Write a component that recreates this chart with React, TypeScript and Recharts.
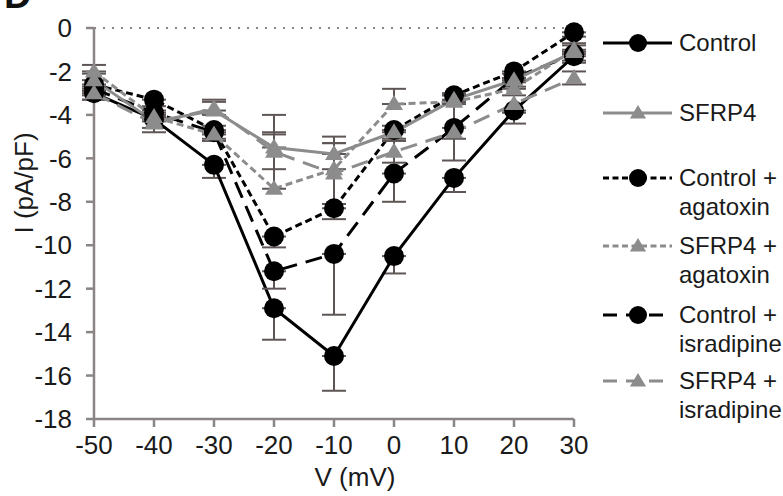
import { LineChart, Line, XAxis, YAxis, ErrorBar, ReferenceLine } from "recharts";

const voltages = [-50, -40, -30, -20, -10, 0, 10, 20, 30];

const control = [-3.0, -4.2, -6.3, -12.9, -15.1, -10.5, -6.9, -3.8, -1.3];
const controlErr = [0.3, 0.4, 0.6, 1.45, 1.6, 0.8, 0.65, 0.6, 0.3];

const sfrp4 = [-2.4, -4.3, -3.8, -5.5, -5.8, -4.8, -3.3, -2.4, -1.1];
const sfrp4Err = [0.3, 0.3, 0.5, 1.5, 0.8, 0.3, 0.3, 0.3, 0.3];

const controlAga = [-2.6, -3.3, -4.7, -9.6, -8.3, -4.7, -3.1, -2.0, -0.2];
const controlAgaErr = [0.3, 0.3, 0.5, 0.5, 0.5, 0.4, 0.3, 0.3, 0.2];

const sfrp4Aga = [-2.0, -4.1, -4.9, -7.4, -6.5, -3.5, -3.4, -2.8, -1.0];
const sfrp4AgaErr = [0.3, 0.3, 0.4, 2.6, 1.2, 0.7, 0.3, 0.3, 0.3];

const controlIsr = [-2.8, -3.9, -4.8, -11.2, -10.4, -6.7, -4.6, -2.3, -1.2];
const controlIsrErr = [0.3, 0.3, 0.3, 0.8, 2.8, 1.3, 0.5, 0.4, 0.3];

const sfrp4Isr = [-3.0, -4.4, -3.7, -5.7, -6.7, -5.7, -4.8, -3.5, -2.3];
const sfrp4IsrErr = [0.3, 0.4, 0.3, 0.8, 1.4, 0.5, 1.3, 0.4, 0.3];

const xTicks = [-50, -40, -30, -20, -10, 0, 10, 20, 30];
const yTicks = [0, -2, -4, -6, -8, -10, -12, -14, -16, -18];

const BLACK = "#000000";
const GRAY = "#8c8c8c";
const AXIS = "#8a8584";
const ERR = "#5e5655";

type Side = "down" | "up" | "both";

const series = [
  { key: "control", name: ["Control"], values: control, err: controlErr, side: "down" as Side, color: BLACK, dash: undefined, marker: "circle" },
  { key: "controlAga", name: ["Control +", "agatoxin"], values: controlAga, err: controlAgaErr, side: "down" as Side, color: BLACK, dash: "7 4", marker: "circle" },
  { key: "controlIsr", name: ["Control +", "isradipine"], values: controlIsr, err: controlIsrErr, side: "down" as Side, color: BLACK, dash: "17 9", marker: "circle" },
  { key: "sfrp4", name: ["SFRP4"], values: sfrp4, err: sfrp4Err, side: "up" as Side, color: GRAY, dash: undefined, marker: "triangle" },
  { key: "sfrp4Aga", name: ["SFRP4 +", "agatoxin"], values: sfrp4Aga, err: sfrp4AgaErr, side: "up" as Side, color: GRAY, dash: "7 4", marker: "triangle" },
  { key: "sfrp4Isr", name: ["SFRP4 +", "isradipine"], values: sfrp4Isr, err: sfrp4IsrErr, side: "both" as Side, color: GRAY, dash: "17 9", marker: "triangle" },
];

const legendOrder = ["control", "sfrp4", "controlAga", "sfrp4Aga", "controlIsr", "sfrp4Isr"];
const legendY = [43, 113, 178, 246, 315, 381];

const data = voltages.map((v, i) => {
  const row: Record<string, any> = { v };
  series.forEach((s) => {
    row[s.key] = s.values[i];
    const e = s.err[i];
    row[s.key + "Err"] = s.side === "down" ? [e, 0] : s.side === "up" ? [0, e] : [e, e];
  });
  return row;
});

const FONT = "'Liberation Sans', Arial, sans-serif";

const Marker = ({ cx, cy, type, color, r = 10 }: any) => {
  if (cx == null || cy == null) return null;
  if (type === "circle") return <circle cx={cx} cy={cy} r={r} fill={color} stroke="none" />;
  const h = r * 1.5;
  return (
    <polygon
      points={`${cx},${cy - h * 0.6} ${cx - r * 0.9},${cy + h * 0.4} ${cx + r * 0.9},${cy + h * 0.4}`}
      fill={color}
    />
  );
};

const Legend = () => (
  <svg width={783} height={496} style={{ position: "absolute", left: 0, top: 0, pointerEvents: "none" }}>
    {legendOrder.map((k, i) => {
      const s = series.find((x) => x.key === k)!;
      const y = legendY[i];
      return (
        <g key={k}>
          <line x1={603} x2={672} y1={y} y2={y} stroke={s.color} strokeWidth={3} strokeDasharray={s.dash === "17 9" ? "14 9" : s.dash === "7 4" ? "6 3.5" : undefined} />
          <Marker cx={638} cy={y} type={s.marker} color={s.color} r={9} />
          {s.name.map((t, j) => (
            <text key={j} x={679} y={y + 8 + j * 29} fontSize={24} fontFamily={FONT} fill="#1a1a1a">
              {t}
            </text>
          ))}
        </g>
      );
    })}
  </svg>
);

export default function App() {
  return (
    <div style={{ position: "absolute", left: 0, top: 0, width: 783, height: 496, background: "#fff", fontFamily: FONT }}>
      <LineChart width={600} height={496} data={data} margin={{ top: 28, right: 26, bottom: 0, left: 0 }}>
        <XAxis
          dataKey="v"
          type="number"
          domain={[-50, 30]}
          ticks={xTicks}
          interval={0}
          tickSize={8}
          tickMargin={9}
          height={77}
          axisLine={{ stroke: AXIS, strokeWidth: 2.5 }}
          tickLine={{ stroke: AXIS, strokeWidth: 2.5 }}
          tick={{ fontSize: 26, fill: "#1a1a1a", fontFamily: FONT }}
          label={{ value: "V (mV)", position: "insideBottom", offset: 10, dx: 21, fontSize: 26, fill: "#1a1a1a", fontFamily: FONT }}
        />
        <YAxis
          type="number"
          domain={[-18, 0]}
          ticks={yTicks}
          interval={0}
          width={94}
          tickSize={8}
          tickMargin={14}
          axisLine={{ stroke: AXIS, strokeWidth: 2.5 }}
          tickLine={{ stroke: AXIS, strokeWidth: 2.5 }}
          tick={{ fontSize: 26, fill: "#1a1a1a", fontFamily: FONT }}
          label={{
            content: () => (
              <text x={33} y={183} transform="rotate(-90 33 183)" textAnchor="middle" fontSize={26} fill="#1a1a1a" fontFamily={FONT}>
                I (pA/pF)
              </text>
            ),
          }}
        />
        <ReferenceLine y={0} stroke={AXIS} strokeWidth={2} strokeDasharray="2 7" />
        {series.map((s) => (
          <Line
            key={s.key}
            dataKey={s.key}
            stroke={s.color}
            strokeWidth={3}
            strokeDasharray={s.dash}
            isAnimationActive={false}
            activeDot={false}
            dot={false}
          >
            <ErrorBar dataKey={s.key + "Err"} direction="y" width={12} stroke={ERR} strokeWidth={2} isAnimationActive={false} />
          </Line>
        ))}
        {/* markers drawn on top of lines and error bars */}
        {series.map((s) => (
          <Line
            key={s.key + "-m"}
            dataKey={s.key}
            stroke="none"
            isAnimationActive={false}
            activeDot={false}
            legendType="none"
            dot={(p: any) => <Marker key={`${s.key}-${p.index}`} cx={p.cx} cy={p.cy} type={s.marker} color={s.color} />}
          />
        ))}
      </LineChart>
      <Legend />
      <div style={{ position: "absolute", left: 4, top: -26, fontSize: 38, fontWeight: "bold", fontFamily: FONT, color: "#111" }}>D</div>
    </div>
  );
}
